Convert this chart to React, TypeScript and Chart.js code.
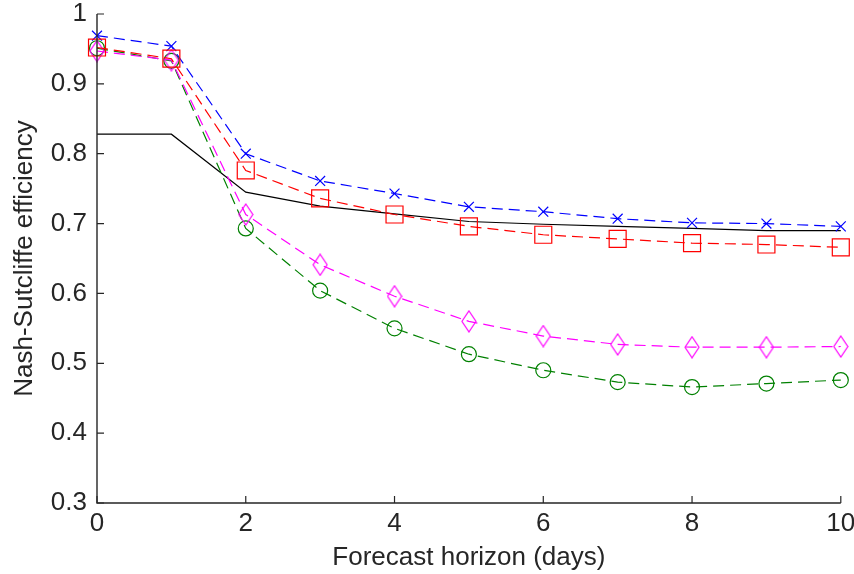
import { useEffect, useRef } from "react";
import { Chart, registerables } from "chart.js";

Chart.register(...registerables);

const horizonDays = [0, 1, 2, 3, 4, 5, 6, 7, 8, 9, 10];
const blueCross = [0.969, 0.954, 0.8, 0.761, 0.743, 0.724, 0.717, 0.707, 0.701, 0.7, 0.696];
const redSquare = [0.952, 0.936, 0.776, 0.736, 0.713, 0.696, 0.684, 0.678, 0.672, 0.67, 0.666];
const magentaDiamond = [0.947, 0.934, 0.713, 0.641, 0.596, 0.56, 0.539, 0.527, 0.523, 0.523, 0.524];
const greenCircle = [0.951, 0.933, 0.693, 0.604, 0.55, 0.513, 0.49, 0.473, 0.466, 0.471, 0.476];
const blackSolid = [0.828, 0.828, 0.745, 0.725, 0.714, 0.703, 0.699, 0.696, 0.693, 0.69, 0.69];

const xTickValues = [0, 2, 4, 6, 8, 10];
const yTickValues = [0.3, 0.4, 0.5, 0.6, 0.7, 0.8, 0.9, 1];
const xTitle = "Forecast horizon (days)";
const yTitle = "Nash-Sutcliffe efficiency";

const FONT = "'Liberation Sans', Arial, Helvetica, sans-serif";
const TEXT = "#262626";

function makeDiamond(color: string): HTMLCanvasElement {
  const c = document.createElement("canvas");
  c.width = 16;
  c.height = 23;
  const g = c.getContext("2d")!;
  g.strokeStyle = color;
  g.lineWidth = 1.2;
  g.beginPath();
  g.moveTo(8, 1);
  g.lineTo(15, 11.5);
  g.lineTo(8, 22);
  g.lineTo(1, 11.5);
  g.closePath();
  g.stroke();
  return c;
}

const pts = (ys: number[]) => horizonDays.map((x, i) => ({ x, y: ys[i] }));

const axesPlugin = {
  id: "matlabAxes",
  afterDraw(chart: any) {
    const { ctx, chartArea } = chart;
    const xs = chart.scales.x;
    const ys = chart.scales.y;
    ctx.save();
    ctx.strokeStyle = TEXT;
    ctx.lineWidth = 1.4;
    ctx.beginPath();
    ctx.moveTo(chartArea.left, chartArea.top);
    ctx.lineTo(chartArea.left, chartArea.bottom);
    ctx.lineTo(chartArea.right, chartArea.bottom);
    ctx.stroke();
    ctx.lineWidth = 1.2;
    ctx.beginPath();
    xs.ticks.forEach((t: any) => {
      const px = xs.getPixelForValue(t.value);
      ctx.moveTo(px, chartArea.bottom);
      ctx.lineTo(px, chartArea.bottom - 7);
    });
    ys.ticks.forEach((t: any) => {
      const py = ys.getPixelForValue(t.value);
      ctx.moveTo(chartArea.left, py);
      ctx.lineTo(chartArea.left + 7, py);
    });
    ctx.stroke();
    ctx.restore();
  },
};

export default function App() {
  const ref = useRef<HTMLCanvasElement | null>(null);

  useEffect(() => {
    if (!ref.current) return;
    const dash = [11, 6];
    const common = { borderWidth: 1.2, borderDash: dash, pointBorderWidth: 1.2, pointBackgroundColor: "rgba(0,0,0,0)", tension: 0, clip: false as any };
    const chart = new Chart(ref.current, {
      type: "line",
      data: {
        datasets: [
          { label: "red", data: pts(redSquare), borderColor: "#ff0000", pointBorderColor: "#ff0000", pointStyle: "rect", pointRadius: 12, order: 1, ...common },
          { label: "blue", data: pts(blueCross), borderColor: "#0000ff", pointBorderColor: "#0000ff", pointStyle: "crossRot", pointRadius: 7, order: 2, ...common },
          { label: "magenta", data: pts(magentaDiamond), borderColor: "#ff00ff", pointBorderColor: "#ff00ff", pointStyle: makeDiamond("#ff00ff") as any, pointRadius: 8, order: 3, ...common },
          { label: "green", data: pts(greenCircle), borderColor: "#008000", pointBorderColor: "#008000", pointStyle: "circle", pointRadius: 7.5, order: 4, ...common },
          { label: "black", data: pts(blackSolid), borderColor: "#000000", borderWidth: 1.2, pointRadius: 0, tension: 0, order: 5, clip: false as any },
        ],
      },
      options: {
        responsive: false,
        animation: false,
        events: [],
        layout: { padding: { left: 0, right: 13, top: 14, bottom: 0 } },
        plugins: { legend: { display: false }, tooltip: { enabled: false } },
        scales: {
          x: {
            type: "linear",
            min: 0,
            max: 10,
            afterBuildTicks: (s: any) => { s.ticks = xTickValues.map((v) => ({ value: v })); },
            afterFit: (s: any) => { s.height = 71; s.paddingLeft = 0; s.paddingRight = 0; },
            grid: { display: false, drawTicks: false },
            border: { display: false },
            ticks: { padding: 5, color: TEXT, font: { family: FONT, size: 26 }, maxRotation: 0, callback: (v: any) => String(v) },
            title: { display: true, text: xTitle, color: TEXT, font: { family: FONT, size: 26 }, padding: { top: 0, bottom: 1 } },
          },
          y: {
            type: "linear",
            min: 0.3,
            max: 1,
            afterBuildTicks: (s: any) => { s.ticks = yTickValues.map((v) => ({ value: v })); },
            afterFit: (s: any) => { s.width = 97; s.paddingTop = 0; s.paddingBottom = 0; },
            grid: { display: false, drawTicks: false },
            border: { display: false },
            ticks: { padding: 10, color: TEXT, font: { family: FONT, size: 26 }, callback: (v: any) => String(Math.round(v * 10) / 10) },
            title: { display: true, text: yTitle, color: TEXT, font: { family: FONT, size: 26 }, padding: { top: 9, bottom: 0 } },
          },
        },
      },
      plugins: [axesPlugin],
    });
    return () => chart.destroy();
  }, []);

  return (
    <div style={{ position: "absolute", left: 0, top: 0, width: 854, height: 574, background: "#fff" }}>
      <canvas ref={ref} width={854} height={574} style={{ display: "block" }} />
    </div>
  );
}
